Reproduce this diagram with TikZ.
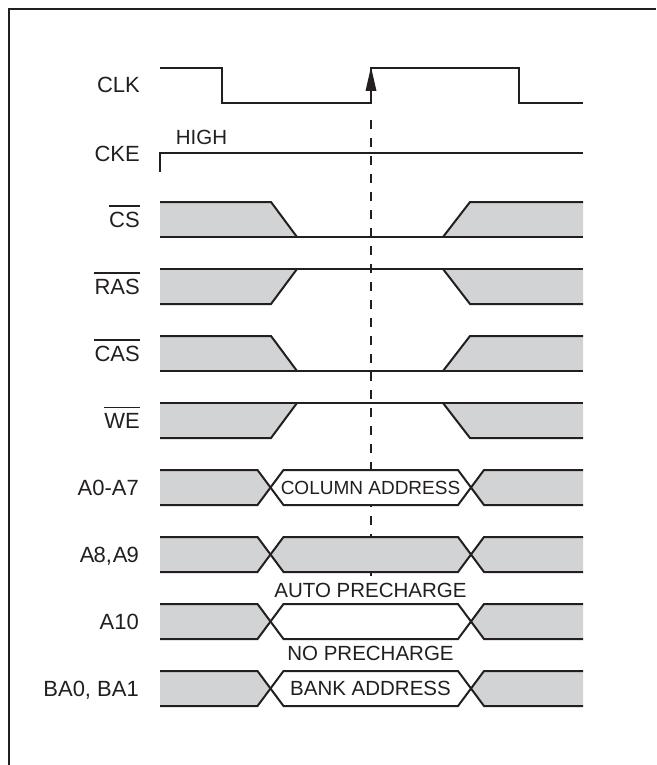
\documentclass[tikz,border=0pt]{standalone}
\usepackage{fontspec}
\setmainfont{Liberation Sans}
\definecolor{ink}{RGB}{35,31,32}
\definecolor{busgray}{RGB}{209,211,212}
\newcommand{\lowrow}[1]{%
  \fill[busgray] (160,#1) -- (271,#1) -- (297,{#1+35}) -- (160,{#1+35}) -- cycle;
  \fill[busgray] (583,#1) -- (470,#1) -- (443,{#1+35}) -- (583,{#1+35}) -- cycle;
  \draw[wave] (160,#1) -- (271,#1) -- (297,{#1+35});
  \draw[wave] (443,{#1+35}) -- (470,#1) -- (583,#1);
  \draw[wave] (160,{#1+35}) -- (583,{#1+35});
}
\newcommand{\highrow}[1]{%
  \fill[busgray] (160,#1) -- (297,#1) -- (271,{#1+35}) -- (160,{#1+35}) -- cycle;
  \fill[busgray] (443,#1) -- (583,#1) -- (583,{#1+35}) -- (470,{#1+35}) -- cycle;
  \draw[wave] (160,#1) -- (583,#1);
  \draw[wave] (160,{#1+35}) -- (271,{#1+35}) -- (297,#1);
  \draw[wave] (443,#1) -- (470,{#1+35}) -- (583,{#1+35});
}
\newcommand{\busrow}[2]{%
  \fill[busgray] (160,#1) -- (257.5,#1) -- (270.5,{#1+17.5}) -- (257.5,{#1+35}) -- (160,{#1+35}) -- cycle;
  \fill[#2] (283.5,#1) -- (458,#1) -- (471,{#1+17.5}) -- (458,{#1+35}) -- (283.5,{#1+35}) -- (270.5,{#1+17.5}) -- cycle;
  \fill[busgray] (583,#1) -- (484,#1) -- (471,{#1+17.5}) -- (484,{#1+35}) -- (583,{#1+35}) -- cycle;
  \draw[wave] (160,#1) -- (257.5,#1) -- (283.5,{#1+35}) -- (458,{#1+35}) -- (484,#1) -- (583,#1);
  \draw[wave] (160,{#1+35}) -- (257.5,{#1+35}) -- (283.5,#1) -- (458,#1) -- (484,{#1+35}) -- (583,{#1+35});
}
\begin{document}
\begin{tikzpicture}[x=1pt,y=-1pt,
  wave/.style={draw=ink,line width=2pt},
  frameline/.style={draw=ink,line width=2.4pt},
  sig/.style={font=\fontsize{22}{26}\selectfont,inner sep=0pt,anchor=base east,text=ink},
  note/.style={font=\fontsize{20.5}{24}\selectfont,inner sep=0pt,anchor=base,text=ink},
  bar/.style={draw=ink,line width=1.3pt}]
\useasboundingbox (0,0) rectangle (656,765);
% frame (cropped)
\draw[frameline] (9,765) -- (9,9) -- (656,9);
% reference line
\draw[draw=ink,line width=2pt,dash pattern=on 9pt off 9pt] (371,120) -- (371,576);
% CLK
\draw[wave] (160,68) -- (222,68) -- (222,103) -- (371,103) -- (371,68) -- (519,68) -- (519,103) -- (583,103);
\fill[ink] (371,67) -- (376.5,91) -- (365.5,91) -- cycle;
% CKE
\draw[wave] (160,172) -- (160,153) -- (583,153);
% control lines
\lowrow{202}
\highrow{269}
\lowrow{336}
\highrow{403}
% buses
\busrow{470}{white}
\busrow{537}{busgray}
\busrow{604}{white}
\busrow{671}{white}
% labels
\node[sig] (clk) at (140,93) {CLK};
\node[sig] (cke) at (140,161) {CKE};
\node[sig] (cs) at (140,227) {CS};
\node[sig] (ras) at (140,294) {RAS};
\node[sig] (cas) at (140,361) {CAS};
\node[sig] (we) at (140,428) {WE};
\draw[bar] ([yshift=5.5pt]cs.north west) -- ([yshift=5.5pt]cs.north east);
\draw[bar] ([yshift=5.5pt]ras.north west) -- ([yshift=5.5pt]ras.north east);
\draw[bar] ([yshift=5.5pt]cas.north west) -- ([yshift=5.5pt]cas.north east);
\draw[bar] ([yshift=5.5pt]we.north west) -- ([yshift=5.5pt]we.north east);
\node[sig] (a0) at (139,495) {A0-A7};
\node[sig] (a8) at (139,562) {A\kern-1pt8,\kern1pt A\kern-1pt9};
\node[sig] (a10) at (139,629) {A10};
\node[sig] (ba) at (139,696) {BA0, BA1};
% annotations
\node[note] (high) at (201.5,144) {HIGH};
\node[note,font=\fontsize{19}{23}\selectfont] (coladdr) at (370.5,494) {COLUMN ADDRESS};
\node[note] (autopre) at (370.5,597) {AUTO PRECHARGE};
\node[note] (nopre) at (370.5,660) {NO PRECHARGE};
\node[note] (bank) at (370.5,695) {BANK ADDRESS};
\end{tikzpicture}
\end{document}
